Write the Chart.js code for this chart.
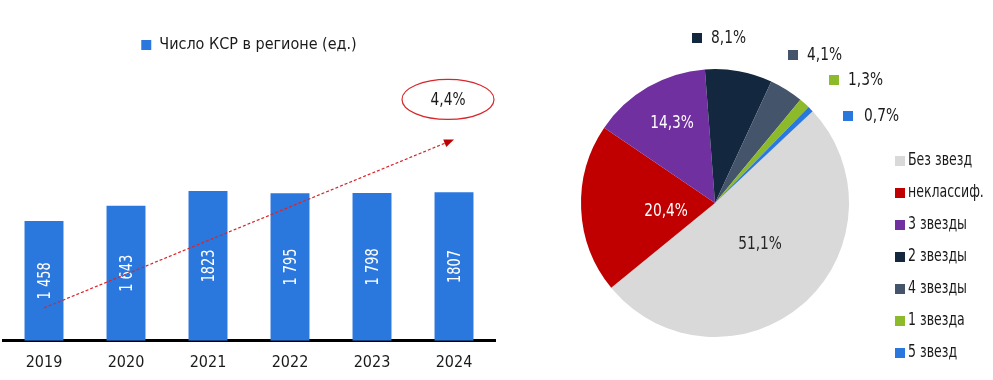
<!DOCTYPE html>
<html>
<head>
<meta charset="utf-8">
<script src="https://cdn.jsdelivr.net/npm/chart.js@4.4.1/dist/chart.umd.min.js"></script>
<style>
  body { margin: 0; background: #fff; }
  #wrap { position: relative; width: 993px; height: 380px; }
  #barBox { position: absolute; left: 0; top: 0; width: 500px; height: 380px; }
  #pieBox { position: absolute; left: 500px; top: 0; width: 493px; height: 380px; }
</style>
</head>
<body>
<div id="wrap">
  <div id="barBox"><canvas id="barChart"></canvas></div>
  <div id="pieBox"><canvas id="pieChart"></canvas></div>
</div>
<script>
const FONT = '"Liberation Sans Narrow", "Arial Narrow", "DejaVu Sans Condensed", sans-serif';

// данные
const years = ['2019', '2020', '2021', '2022', '2023', '2024'];
const ksrCount = [1458, 1643, 1823, 1795, 1798, 1807];
const ksrLabels = ['1 458', '1 643', '1823', '1 795', '1 798', '1807'];
const seriesName = 'Число КСР в регионе (ед.)';
const growthText = '4,4%';

const categories = ['Без звезд', 'неклассиф.', '3 звезды', '2 звезды', '4 звезды', '1 звезда', '5 звезд'];
const shares = [51.1, 20.4, 14.3, 8.1, 4.1, 1.3, 0.7];
const shareColors = ['#D9D9D9', '#C00000', '#7030A0', '#13273F', '#44546A', '#8DBA2A', '#2A78DE'];

const barBlue = '#2A78DE';

function fmt(v) {
    return v.toFixed(1).replace('.', ',') + '%';
}

// узкий текст (сжатие по горизонтали)
function narrowText(ctx, text, x, y, sx) {
    ctx.save();
    ctx.translate(x, y);
    ctx.scale(sx, 1);
    ctx.fillText(text, 0, 0);
    ctx.restore();
}

// подписи внутри столбцов + стрелка тренда
const barExtras = {
    id: 'barExtras',
    afterDatasetsDraw(chart) {
        const ctx = chart.ctx;
        const meta = chart.getDatasetMeta(0);
        ctx.save();
        ctx.fillStyle = '#fff';
        ctx.font = '18px ' + FONT;
        ctx.textAlign = 'center';
        ctx.textBaseline = 'middle';
        meta.data.forEach((bar, i) => {
            const cy = (bar.y + bar.base) / 2;
            ctx.save();
            ctx.translate(bar.x, cy);
            ctx.rotate(-Math.PI / 2);
            narrowText(ctx, ksrLabels[i], 0, 1, 0.8);
            ctx.restore();
        });

        // стрелка
        const xs = chart.scales.x, ys = chart.scales.y;
        const x1 = xs.getPixelForValue(0), y1 = ys.getPixelForValue(400);
        const x2 = xs.getPixelForValue(5), y2 = ys.getPixelForValue(2450);
        ctx.strokeStyle = '#D8262B';
        ctx.lineWidth = 1.2;
        ctx.setLineDash([3, 2]);
        ctx.beginPath();
        ctx.moveTo(x1, y1);
        ctx.lineTo(x2 - 6, y2 + 2.5);
        ctx.stroke();
        ctx.setLineDash([]);
        const ang = Math.atan2(y2 - y1, x2 - x1);
        ctx.fillStyle = '#C00000';
        ctx.beginPath();
        ctx.moveTo(x2, y2);
        ctx.lineTo(x2 - 10 * Math.cos(ang) + 4 * Math.sin(ang), y2 - 10 * Math.sin(ang) - 4 * Math.cos(ang));
        ctx.lineTo(x2 - 10 * Math.cos(ang) - 4 * Math.sin(ang), y2 - 10 * Math.sin(ang) + 4 * Math.cos(ang));
        ctx.closePath();
        ctx.fill();

        // эллипс
        const ex = x2 - 6, ey = y2 - 40;
        ctx.strokeStyle = '#D8262B';
        ctx.lineWidth = 1.2;
        ctx.beginPath();
        ctx.ellipse(ex, ey, 46, 20, 0, 0, Math.PI * 2);
        ctx.stroke();
        ctx.fillStyle = '#1a1a1a';
        ctx.font = '18px ' + FONT;
        narrowText(ctx, growthText, ex, ey + 1, 0.85);
        ctx.restore();
    }
};

new Chart(document.getElementById('barChart'), {
    type: 'bar',
    data: {
        labels: years,
        datasets: [{
            label: seriesName,
            data: ksrCount,
            backgroundColor: barBlue,
            barPercentage: 0.475,
            categoryPercentage: 1
        }]
    },
    options: {
        responsive: true,
        maintainAspectRatio: false,
        animation: false,
        layout: { padding: { left: 3, right: 5, top: 27, bottom: 4 } },
        plugins: {
            legend: {
                position: 'top',
                labels: {
                    boxWidth: 10,
                    boxHeight: 10,
                    color: '#1a1a1a',
                    font: { family: FONT, size: 16 }
                }
            },
            tooltip: { enabled: false }
        },
        scales: {
            x: {
                grid: { display: false },
                border: { display: true, color: '#000', width: 3 },
                ticks: { color: '#1a1a1a', font: { family: FONT, size: 16 }, padding: 4 }
            },
            y: {
                display: false,
                min: 0,
                max: 3380
            }
        }
    },
    plugins: [barExtras]
});

// подписи и легенда круговой диаграммы
const insidePos = { 0: [45, 41, '#262626'], 1: [-49, 8, '#fff'], 2: [-43, -80, '#fff'] };
const outsidePos = { 3: [-23, -165], 4: [73, -148], 5: [114, -123], 6: [128, -87] };

const pieExtras = {
    id: 'pieExtras',
    afterDatasetsDraw(chart) {
        const ctx = chart.ctx;
        const meta = chart.getDatasetMeta(0);
        ctx.save();
        ctx.font = '18px ' + FONT;
        ctx.textBaseline = 'middle';
        meta.data.forEach((arc, i) => {
            if (insidePos[i]) {
                const p = insidePos[i];
                ctx.fillStyle = p[2];
                ctx.textAlign = 'center';
                narrowText(ctx, fmt(shares[i]), arc.x + p[0], arc.y + p[1], 0.85);
            } else {
                const p = outsidePos[i];
                const bx = arc.x + p[0], by = arc.y + p[1];
                ctx.fillStyle = shareColors[i];
                ctx.fillRect(bx, by - 5, 10, 10);
                ctx.fillStyle = '#1a1a1a';
                ctx.textAlign = 'left';
                narrowText(ctx, fmt(shares[i]), bx + (i === 6 ? 21 : 19), by, 0.85);
            }
        });

        // легенда
        const lx = 395, ly = 161;
        ctx.font = '17px ' + FONT;
        categories.forEach((c, i) => {
            const y = ly + i * 32;
            ctx.fillStyle = shareColors[i];
            ctx.fillRect(lx, y - 5, 10, 10);
            ctx.fillStyle = '#1a1a1a';
            ctx.textAlign = 'left';
            narrowText(ctx, c, lx + 13, y, 0.82);
        });
        ctx.restore();
    }
};

new Chart(document.getElementById('pieChart'), {
    type: 'pie',
    data: {
        labels: categories,
        datasets: [{
            data: shares,
            backgroundColor: shareColors,
            borderWidth: 0
        }]
    },
    options: {
        responsive: true,
        maintainAspectRatio: false,
        animation: false,
        rotation: 46.8,
        layout: { padding: { left: 81, right: 144, top: 69, bottom: 43 } },
        plugins: {
            legend: { display: false },
            tooltip: { enabled: false }
        }
    },
    plugins: [pieExtras]
});
</script>
</body>
</html>
